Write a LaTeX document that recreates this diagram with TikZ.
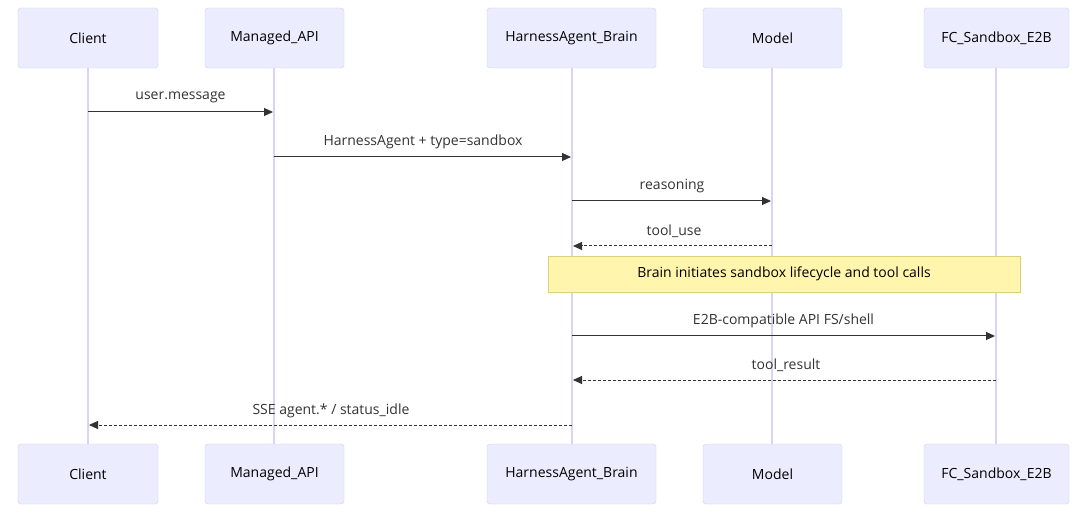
\documentclass[tikz,border=0pt]{standalone}
\usepackage{fontspec}
\setmainfont{Open Sans}
\usetikzlibrary{arrows.meta}
\definecolor{actfill}{HTML}{ECECFF}
\definecolor{actline}{HTML}{D4D0F2}
\definecolor{lifeline}{HTML}{D8D4F4}
\definecolor{notefill}{HTML}{FFF5AD}
\definecolor{noteline}{HTML}{D8D27A}
\definecolor{msg}{HTML}{333333}
\begin{document}
\begin{tikzpicture}[x=1pt,y=-1pt,
  actor/.style={draw=actline,fill=actfill,rounded corners=3pt,minimum height=60pt,inner sep=0pt,font=\fontsize{14}{16}\selectfont,text=black},
  life/.style={draw=lifeline,line width=1.2pt},
  msgline/.style={draw=msg,line width=1pt,-{Triangle[length=9pt,width=8pt]}},
  reply/.style={msgline,dash pattern=on 3pt off 2pt},
  lbl/.style={font=\fontsize{14}{16}\selectfont,text=msg,inner sep=0pt}]
\useasboundingbox (0,0) rectangle (1080,513);
\fill[white] (0,0) rectangle (1080,513);
% lifelines
\foreach \x in {88,274,572,772,996}{\draw[life] (\x,68) -- (\x,444);}
% actors top
\node[actor,minimum width=140pt] (cT) at (88,38) {Client};
\node[actor,minimum width=139pt] (aT) at (274.5,38) {Managed\_API};
\node[actor,minimum width=169pt] (hT) at (571.5,38) {HarnessAgent\_Brain};
\node[actor,minimum width=139pt] (mT) at (772.5,38) {Model};
\node[actor,minimum width=145pt] (fT) at (996.5,38) {FC\_Sandbox\_E2B};
% actors bottom
\node[actor,minimum width=140pt] (cB) at (88,474) {Client};
\node[actor,minimum width=139pt] (aB) at (274.5,474) {Managed\_API};
\node[actor,minimum width=169pt] (hB) at (571.5,474) {HarnessAgent\_Brain};
\node[actor,minimum width=139pt] (mB) at (772.5,474) {Model};
\node[actor,minimum width=145pt] (fB) at (996.5,474) {FC\_Sandbox\_E2B};
% message anchors
\coordinate (c1) at (88,112); \coordinate (a1) at (273,112);
\coordinate (a2) at (274,157); \coordinate (h2) at (571,157);
\coordinate (h3) at (572,201); \coordinate (m3) at (771,201);
\coordinate (m4) at (772,246); \coordinate (h4) at (573,246);
\coordinate (h5) at (572,336); \coordinate (f5) at (995,336);
\coordinate (f6) at (996,380); \coordinate (h6) at (573,380);
\coordinate (h7) at (572,425); \coordinate (c7) at (89,425);
\draw[msgline] (c1) -- (a1);
\node[lbl] (l1) at (180.5,97.5) {user.message};
\draw[msgline] (a2) -- (h2);
\node[lbl] (l2) at (423,142) {HarnessAgent + type=sandbox};
\draw[msgline] (h3) -- (m3);
\node[lbl] (l3) at (672,186.5) {reasoning};
\draw[reply] (m4) -- (h4);
\node[lbl] (l4) at (674,231) {tool\_use};
\node[draw=noteline,fill=notefill,minimum width=472pt,minimum height=36pt,inner sep=0pt,font=\fontsize{14}{16}\selectfont,text=black] (note) at (784,274) {Brain initiates sandbox lifecycle and tool calls};
\draw[msgline] (h5) -- (f5);
\node[lbl] (l5) at (783.5,321) {E2B-compatible API FS/shell};
\draw[reply] (f6) -- (h6);
\node[lbl] (l6) at (786,365.5) {tool\_result};
\draw[reply] (h7) -- (c7);
\node[lbl] (l7) at (331,410.5) {SSE agent.* / status\_idle};
\end{tikzpicture}
\end{document}
